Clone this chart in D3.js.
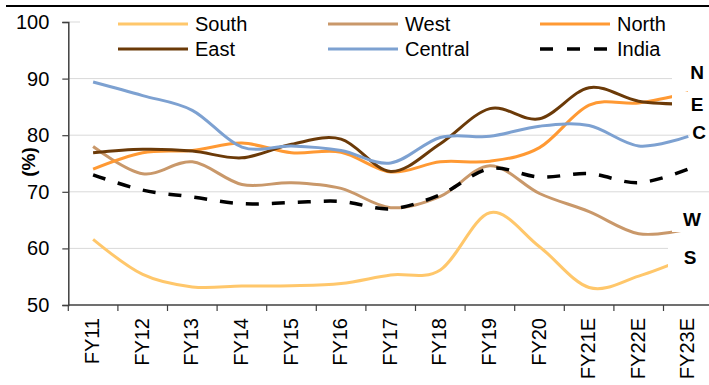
<!DOCTYPE html>
<html>
<head>
<meta charset="utf-8">
<script src="https://cdn.jsdelivr.net/npm/d3@7"></script>
<style>
  html, body { margin: 0; padding: 0; background: #fff; }
  svg { display: block; font-family: "Liberation Sans", Arial, sans-serif; }
</style>
</head>
<body>
<svg id="chart" width="709" height="385"></svg>
<script>
// Fiscal years on the category axis
const categories = ["FY11","FY12","FY13","FY14","FY15","FY16","FY17","FY18","FY19","FY20","FY21E","FY22E","FY23E"];

// Regional values (%)
const south   = [61.6, 55.4, 53.2, 53.35, 53.4, 53.8, 55.3, 56.2, 66.3, 60.3, 53.1, 55.1, 58.4];
const west    = [78.0, 73.2, 75.3, 71.3, 71.6, 70.6, 67.2, 69.2, 74.6, 69.7, 66.5, 62.6, 63.4];
const north   = [74.0, 76.9, 77.3, 78.6, 76.9, 77.0, 73.5, 75.3, 75.4, 77.8, 85.3, 85.7, 87.5];
const east    = [76.9, 77.5, 77.2, 76.0, 78.4, 79.3, 73.6, 78.5, 84.7, 82.9, 88.4, 86.0, 85.5];
const central = [89.4, 87.0, 84.4, 77.9, 78.1, 77.3, 75.1, 79.6, 79.8, 81.6, 81.7, 78.1, 79.8];
const india   = [73.0, 70.3, 69.1, 67.9, 68.1, 68.3, 67.0, 69.5, 74.1, 72.6, 73.2, 71.6, 74.0];

// Y axis ticks
const yTicks = [50, 60, 70, 80, 90, 100];

// Series names, short end labels and colours
const seriesNames  = ["South", "West", "North", "East", "Central", "India"];
const endLabels    = ["S", "W", "N", "E", "C", null];
const seriesColors = ["#ffc76b", "#c9986a", "#ff9933", "#6b3a08", "#7da1d1", "#000000"];

const seriesData = [south, west, north, east, central, india];
const series = seriesNames.map((name, i) => ({
  name, label: endLabels[i], color: seriesColors[i], values: seriesData[i], dashed: name === "India"
}));

const svg = d3.select("#chart");
const W = 709, H = 385;
const plot = { left: 68.3, top: 22, bottom: 305, band: 49.6 };

const x = d3.scaleBand()
  .domain(categories)
  .range([plot.left, plot.left + plot.band * categories.length])
  .padding(0);
const y = d3.scaleLinear().domain([50, 100]).range([plot.bottom, plot.top]);
const cx = c => x(c) + x.bandwidth() / 2;

// Top rule
svg.append("rect").attr("x", 6).attr("y", 5).attr("width", W - 6).attr("height", 2).attr("fill", "#000");

// Gridlines
svg.append("g").selectAll("line")
  .data(yTicks.filter(t => t > 50))
  .join("line")
  .attr("x1", plot.left).attr("x2", W)
  .attr("y1", d => y(d)).attr("y2", d => y(d))
  .attr("stroke", "#d9d9d9").attr("stroke-width", 1);

// Y axis
const yAxis = d3.axisLeft(y).tickValues(yTicks).tickSize(6).tickPadding(13).tickFormat(d3.format("d"));
const gy = svg.append("g").attr("transform", `translate(${plot.left},0)`).call(yAxis);
gy.select(".domain").attr("stroke", "#404040").attr("stroke-width", 1.5);
gy.selectAll(".tick line").attr("stroke", "#404040").attr("stroke-width", 1.2);
gy.selectAll(".tick text").attr("font-size", 20).attr("fill", "#000")
  .attr("font-family", "'Liberation Sans', Arial, sans-serif");

// Y axis title
svg.append("text")
  .attr("transform", `translate(28,162) rotate(-90)`)
  .attr("text-anchor", "middle").attr("dominant-baseline", "central")
  .attr("font-size", 19).attr("font-weight", "bold").text("(%)");

// X axis with boundary ticks
const gx = svg.append("g");
gx.append("line").attr("x1", plot.left).attr("x2", W)
  .attr("y1", plot.bottom).attr("y2", plot.bottom)
  .attr("stroke", "#404040").attr("stroke-width", 1.5);
gx.selectAll("line.tk").data(categories).join("line").attr("class", "tk")
  .attr("x1", d => x(d)).attr("x2", d => x(d))
  .attr("y1", plot.bottom).attr("y2", plot.bottom + 6)
  .attr("stroke", "#404040").attr("stroke-width", 1.2);
gx.selectAll("text").data(categories).join("text")
  .attr("transform", d => `translate(${cx(d) - 1},${plot.bottom + 13}) rotate(-90)`)
  .attr("text-anchor", "end").attr("dominant-baseline", "central")
  .attr("font-size", 20).attr("fill", "#000").text(d => d);

// Lines
const line = d3.line()
  .x((d, i) => cx(categories[i]))
  .y(d => y(d))
  .curve(d3.curveCardinal.tension(0));

svg.append("g").selectAll("path")
  .data(series)
  .join("path")
  .attr("d", d => line(d.values))
  .attr("fill", "none")
  .attr("stroke", d => d.color)
  .attr("stroke-width", d => d.dashed ? 3.5 : 3)
  .attr("stroke-dasharray", d => d.dashed ? "13,13" : null)
  .attr("stroke-linecap", "butt");

// End labels on white boxes
const labelBoxes = {
  N: { x: 672, y: 60, w: 37, h: 26, tx: 697, ty: 72.5 },
  E: { x: 672, y: 92, w: 37, h: 24, tx: 697, ty: 104 },
  C: { x: 690, y: 121, w: 19, h: 24, tx: 699, ty: 132.5 },
  W: { x: 672, y: 206, w: 37, h: 26, tx: 692, ty: 219 },
  S: { x: 668, y: 244, w: 41, h: 26, tx: 690, ty: 257.5 }
};
const lbl = svg.append("g");
series.filter(s => s.label).forEach(s => {
  const b = labelBoxes[s.label];
  lbl.append("rect").attr("x", b.x).attr("y", b.y).attr("width", b.w).attr("height", b.h).attr("fill", "#fff");
  lbl.append("text").attr("x", b.tx).attr("y", b.ty)
    .attr("text-anchor", "middle").attr("dominant-baseline", "central")
    .attr("font-size", 19).attr("font-weight", "bold").text(s.label);
});

// Legend
const legend = svg.append("g");
legend.append("rect").attr("x", 80).attr("y", 9).attr("width", W - 80).attr("height", 52).attr("fill", "#fff");
const colX = [118, 328, 540], rowY = [24, 49];
series.forEach((s, i) => {
  const gx0 = colX[i % 3], gy0 = rowY[Math.floor(i / 3)];
  legend.append("line")
    .attr("x1", gx0).attr("x2", gx0 + 70).attr("y1", gy0).attr("y2", gy0)
    .attr("stroke", s.color).attr("stroke-width", s.dashed ? 3.5 : 3)
    .attr("stroke-dasharray", s.dashed ? "13,14" : null);
  legend.append("text")
    .attr("x", gx0 + 77).attr("y", gy0).attr("dominant-baseline", "central")
    .attr("font-size", 20).attr("fill", "#000").text(s.name);
});
</script>
</body>
</html>
